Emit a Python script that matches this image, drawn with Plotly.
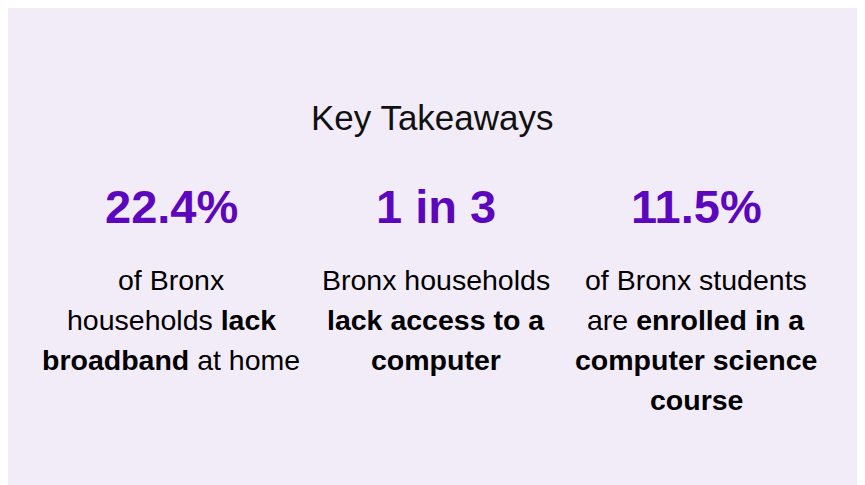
import plotly.graph_objects as go

# Content of the infographic
title = "Key Takeaways"
stats = ["22.4%", "1 in 3", "11.5%"]
descriptions = [
    ["of Bronx", "households <b>lack</b>", "<b>broadband</b> at home"],
    ["Bronx households", "<b>lack access to a</b>", "<b>computer</b>"],
    ["of Bronx students", "are <b>enrolled in a</b>", "<b>computer science</b>", "<b>course</b>"],
]

# Layout in pixel units of the 865x485 window (page has an 8px body margin)
W, H = 865, 485
OFF = 8
col_x = [171, 436, 696]
line_y = [280, 320, 360, 400]
purple = "#5c06be"
font = "Liberation Sans, Arial, sans-serif"

fig = go.Figure()

fig.add_annotation(x=W / 2, y=117, text=title, showarrow=False,
                   font=dict(family=font, size=35, color="#111"),
                   xanchor="center", yanchor="middle")

for i, stat in enumerate(stats):
    fig.add_annotation(x=col_x[i], y=206, text="<b>" + stat + "</b>", showarrow=False,
                       font=dict(family=font, size=47, color=purple),
                       xanchor="center", yanchor="middle")
    for j, line in enumerate(descriptions[i]):
        fig.add_annotation(x=col_x[i], y=line_y[j], text=line, showarrow=False,
                           font=dict(family=font, size=28.5, color="#000"),
                           xanchor="center", yanchor="middle")

fig.update_xaxes(range=[OFF, W], visible=False, fixedrange=True)
fig.update_yaxes(range=[H, OFF], visible=False, fixedrange=True)
fig.update_layout(
    width=W - OFF, height=H - OFF,
    margin=dict(l=0, r=0, t=0, b=0),
    paper_bgcolor="#f2ecf8", plot_bgcolor="#f2ecf8",
    showlegend=False,
)

fig.write_html("out.html", config={"displayModeBar": False})
